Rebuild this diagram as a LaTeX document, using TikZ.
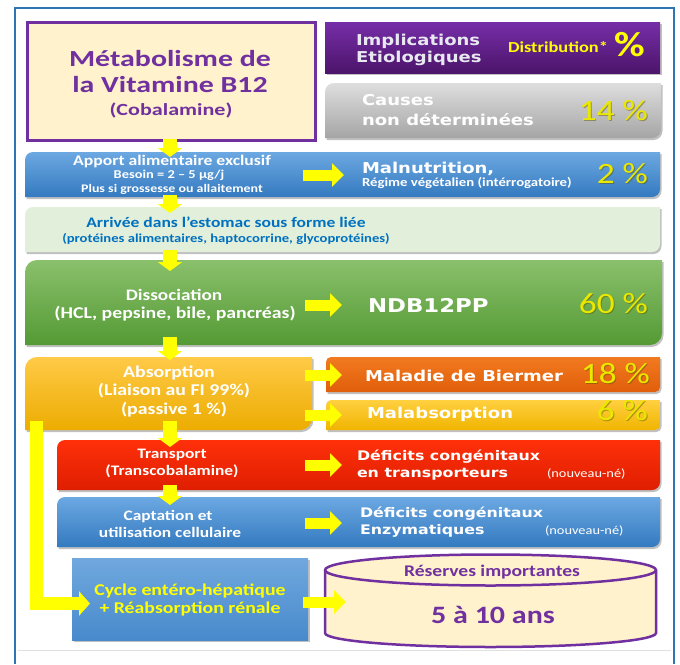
\documentclass[tikz,border=0pt]{standalone}
\usepackage{fontspec}
\setmainfont{Carlito}[FakeStretch=1.2]
\newfontfamily\vfont{DejaVu Sans}[FakeStretch=1.2]
\newfontfamily\tfont{Carlito}[FakeStretch=1.3]
\usetikzlibrary{shadows,arrows.meta}
\definecolor{frameblue}{RGB}{46,117,182}
\definecolor{purp}{RGB}{112,48,160}
\definecolor{cream}{RGB}{255,242,204}
\definecolor{ptop}{RGB}{118,46,168}
\definecolor{pbot}{RGB}{76,20,106}
\definecolor{gtop}{RGB}{222,222,222}
\definecolor{gbot}{RGB}{165,165,165}
\definecolor{btop}{RGB}{108,168,226}
\definecolor{bbot}{RGB}{52,122,192}
\definecolor{lgreen}{RGB}{226,239,218}
\definecolor{grtop}{RGB}{138,192,108}
\definecolor{grbot}{RGB}{84,154,52}
\definecolor{atop}{RGB}{255,202,72}
\definecolor{abot}{RGB}{236,172,0}
\definecolor{otop}{RGB}{242,122,32}
\definecolor{obot}{RGB}{224,94,10}
\definecolor{mtop}{RGB}{255,208,64}
\definecolor{mbot}{RGB}{240,180,0}
\definecolor{rtop}{RGB}{255,48,10}
\definecolor{rbot}{RGB}{222,30,0}
\definecolor{ctop}{RGB}{112,168,222}
\definecolor{cbot}{RGB}{72,138,204}
\definecolor{yel}{RGB}{255,255,0}
\definecolor{pct}{RGB}{235,232,0}
\definecolor{pctsh}{RGB}{90,80,0}
\definecolor{arrc}{RGB}{0,112,192}
\definecolor{impc}{RGB}{232,232,240}
\newcommand\rdbox[6]{%
  \path[#6] (#1,#4) -- (#1,{#2+#5}) arc[start angle=180,end angle=90,radius=#5pt]
    -- (#3,#2) -- (#3,{#4-#5}) arc[start angle=0,end angle=-90,radius=#5pt] -- cycle;}
\newcommand\pcttext[3]{%
  \node[t,anchor=base east,text=pctsh,opacity=.45,font=\fontsize{29.5}{29.5}\selectfont] at ([xshift=1pt,yshift=-1pt]#2) {#3};
  \node[t,anchor=base east,text=pct,font=\fontsize{29.5}{29.5}\selectfont] (#1) at (#2) {#3};}
\begin{document}
\begin{tikzpicture}[x=1pt,y=-1pt,
  t/.style={inner sep=0,outer sep=0},
  shad/.style={drop shadow={shadow xshift=1.5pt,shadow yshift=-2pt,opacity=.35,fill=black!70}},
  wt/.style={t,text=white},
  vb/.style={font=\vfont\bfseries\fontsize{#1}{#1}\selectfont},
  cb/.style={font=\bfseries\fontsize{#1}{#1}\selectfont},
  yr/.style={draw=yel,line width=11pt,-{Triangle[length=12pt,width=23pt]}},
  yd/.style={draw=yel,line width=14pt,-{Triangle[length=9pt,width=24pt]}}]
\useasboundingbox (0,0) rectangle (680,664);
\fill[white] (0,0) rectangle (680,664);
% frame
\draw[frameblue,line width=2.5pt] (15,664) -- (15,8) -- (674,8) -- (674,664);
\draw[black!12,line width=0.8pt] (18,650) -- (671,650);
% boxes
\path[fill=cream,draw=purp,line width=3pt,shad] (27,22) rectangle (315,140);
\path[top color=ptop,bottom color=pbot,shad] (325,22) rectangle (660,73);
\rdbox{325}{83}{661}{138}{9}{top color=gtop,bottom color=gbot,shad}
\rdbox{25}{152}{660}{197}{8}{top color=btop,bottom color=bbot,shad}
\rdbox{25}{207}{660}{252}{8}{fill=lgreen,shad}
\rdbox{25}{260}{662}{345}{12}{top color=grtop,bottom color=grbot,shad}
\rdbox{25}{357}{312}{430}{12}{top color=atop,bottom color=abot,shad}
\rdbox{326}{357}{660}{392}{5}{top color=otop,bottom color=obot,shad}
\rdbox{326}{400}{660}{430}{5}{top color=mtop,bottom color=mbot,shad}
\rdbox{57}{440}{660}{490}{8}{top color=rtop,bottom color=rbot,shad}
\rdbox{57}{497}{660}{547}{8}{top color=btop,bottom color=bbot,shad}
\path[top color=ctop,bottom color=cbot,shad] (72,558) rectangle (308,640);
% cylinder
\path[fill=cream,draw=purp,line width=2.5pt]
  (325,570) -- (325,633) arc[start angle=180,end angle=360,x radius=165.5pt,y radius=14pt]
  -- (656,570) arc[start angle=0,end angle=180,x radius=165.5pt,y radius=15.5pt] -- cycle;
\draw[purp,line width=2.5pt] (325,570) arc[start angle=180,end angle=360,x radius=165.5pt,y radius=15.5pt];
% title text
\node[t,anchor=base,text=purp,font=\tfont\bfseries\fontsize{23}{23}\selectfont] (t1) at (170,66) {Métabolisme de};
\node[t,anchor=base,text=purp,font=\tfont\bfseries\fontsize{23}{23}\selectfont] (t2) at (170,92) {la Vitamine B12};
\node[t,anchor=base,text=purp,font=\tfont\bfseries\fontsize{17}{17}\selectfont] (t3) at (171,115) {(Cobalamine)};
% implications
\node[t,anchor=base west,text=impc,vb=15] (imp1) at (356,45) {Implications};
\node[t,anchor=base west,text=yel,cb=15.3] (dist) at (508,52) {Distribution*};
\node[t,anchor=base west,text=impc,vb=15] (imp2) at (356,62) {Etiologiques};
\node[t,anchor=base west,text=yel,cb=35] (distp) at (614,56) {\%};
% causes
\node[t,anchor=base west,text=white,vb=15] (ca1) at (362,105) {Causes};
\node[t,anchor=base west,text=white,vb=15] (ca2) at (362,125) {non déterminées};
\pcttext{p14}{648,120}{14 \%}
% apport
\node[wt,anchor=base,cb=14.7] (ap1) at (172,165) {Apport alimentaire exclusif};
\node[wt,anchor=base,cb=12] (ap2) at (169,178) {Besoin = 2 – 5 µg/j};
\node[wt,anchor=base,cb=11.6] (ap3) at (172,192) {Plus si grossesse ou allaitement};
\node[wt,anchor=base west,vb=15] (mal1) at (362,173) {Malnutrition,};
\node[wt,anchor=base west,cb=12.3] (mal2) at (362,186) {Régime végétalien (intérrogatoire)};
\pcttext{p2}{648,183}{2 \%}
% arrivee
\node[t,anchor=base,text=arrc,cb=14.6] (ar1) at (226,227) {Arrivée dans l’estomac sous forme liée};
\node[t,anchor=base,text=arrc,cb=12.2] (ar2) at (226,242) {(protéines alimentaires, haptocorrine, glycoprotéines)};
% dissociation
\node[wt,anchor=base,cb=16] (di1) at (174,300) {Dissociation};
\node[wt,anchor=base,cb=16.5] (di2) at (175,318) {(HCL, pepsine, bile, pancréas)};
\node[wt,anchor=base west,vb=19] (ndb) at (368,312) {NDB12PP};
\pcttext{p60}{648,313}{60 \%}
% absorption
\node[wt,anchor=base,cb=16.5] (ab1) at (169,377) {Absorption};
\node[wt,anchor=base,cb=16.5] (ab2) at (174,395) {(Liaison au FI 99\%)};
\node[wt,anchor=base,cb=16.5] (ab3) at (174,414) {(passive 1 \%)};
\node[wt,anchor=base west,vb=15] (mb) at (365,381) {Maladie de Biermer};
\pcttext{p18}{650,383}{18 \%}
\node[wt,anchor=base west,vb=15] (mab) at (367,418) {Malabsorption};
\pcttext{p6}{648,420}{6 \%}
% transport
\node[wt,anchor=base,cb=14.5] (tr1) at (172,458) {Transport};
\node[wt,anchor=base,cb=14.5] (tr2) at (172,475) {(Transcobalamine)};
\node[wt,anchor=base west,vb=13.2] (dc1) at (357,460) {Déficits congénitaux};
\node[wt,anchor=base west,vb=13.2] (dc2) at (357,477) {en transporteurs};
\node[wt,anchor=base west,font=\fontsize{12}{12}\selectfont] (nn1) at (547,477) {(nouveau-né)};
% captation
\node[wt,anchor=base,cb=14.5] (cp1) at (168,520) {Captation et};
\node[wt,anchor=base,cb=14.5] (cp2) at (170,537) {utilisation cellulaire};
\node[wt,anchor=base west,vb=13.2] (de1) at (360,517) {Déficits congénitaux};
\node[wt,anchor=base west,vb=13.2] (de2) at (360,534) {Enzymatiques};
\node[wt,anchor=base west,font=\fontsize{12}{12}\selectfont] (nn2) at (545,534) {(nouveau-né)};
% cycle
\node[t,anchor=base,text=yel,cb=16.5] (cy1) at (190,595) {Cycle entéro-hépatique};
\node[t,anchor=base,text=yel,cb=16.5] (cy2) at (190,613) {+ Réabsorption rénale};
% reserves
\node[t,anchor=base,text=purp,cb=16.3] (rs) at (492,576) {Réserves importantes};
\node[t,anchor=base,text=purp,cb=25] (ans) at (493,623) {5 à 10 ans};
% connector coordinates
\coordinate (d1a) at (170,139); \coordinate (d1b) at (170,157);
\coordinate (d2a) at (170,195); \coordinate (d2b) at (170,213);
\coordinate (d3a) at (170,250); \coordinate (d3b) at (170,271);
\coordinate (d4a) at (170,337); \coordinate (d4b) at (170,360);
\coordinate (d5a) at (170,421); \coordinate (d5b) at (170,447);
\coordinate (d6a) at (170,485); \coordinate (d6b) at (170,505);
\coordinate (r1a) at (303,175); \coordinate (r1b) at (344,175);
\coordinate (r2a) at (305,305); \coordinate (r2b) at (342,305);
\coordinate (r3a) at (305,375); \coordinate (r3b) at (342,375);
\coordinate (r4a) at (305,415); \coordinate (r4b) at (342,415);
\coordinate (r5a) at (305,465); \coordinate (r5b) at (342,465);
\coordinate (r6a) at (305,523); \coordinate (r6b) at (342,523);
\coordinate (r7a) at (303,602); \coordinate (r7b) at (346,602);
\coordinate (la) at (36,421); \coordinate (lb) at (90,603.5);
% connectors
\foreach \n in {d1,d2,d3,d4,d5,d6} \draw[yd] (\n a) -- (\n b);
\foreach \n in {r1,r2,r3,r4,r5,r6,r7} \draw[yr] (\n a) -- (\n b);
\draw[draw=yel,line width=13pt,-{Triangle[length=11pt,width=24pt]}] (la) |- (lb);
\end{tikzpicture}
\end{document}
